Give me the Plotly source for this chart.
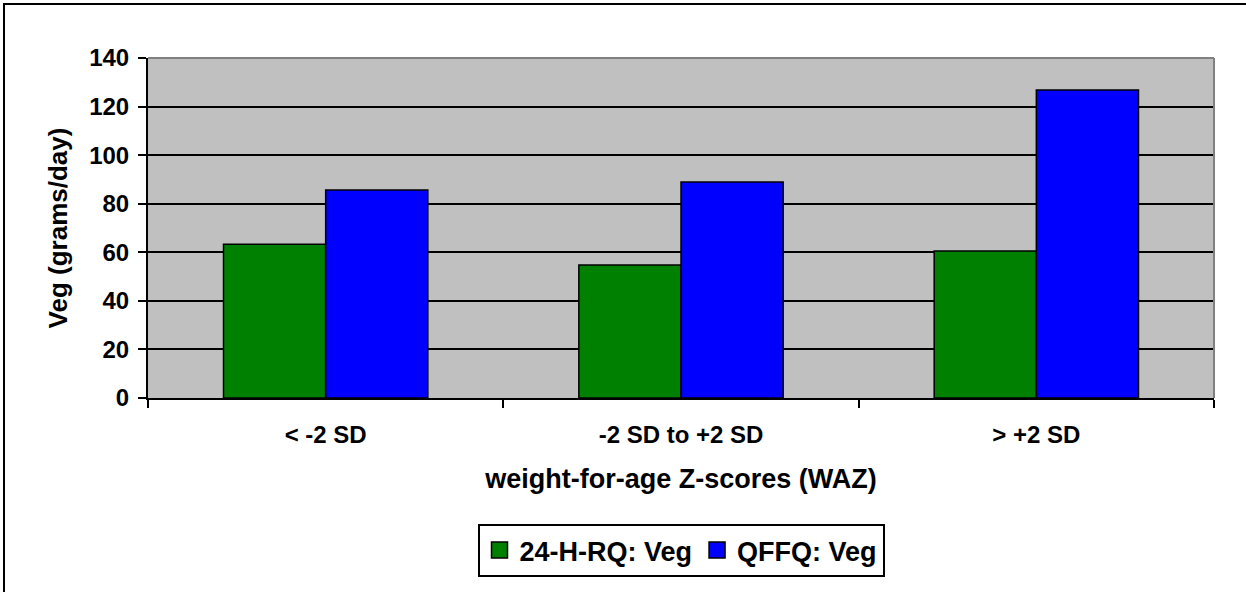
import plotly.graph_objects as go

categories = ["< -2 SD", "-2 SD to +2 SD", "> +2 SD"]
rq_veg = [63.3, 54.8, 60.5]
qffq_veg = [85.6, 88.9, 126.8]
series_names = ["24-H-RQ: Veg", "QFFQ: Veg"]
series_colors = ["#008000", "#0000FF"]
y_ticks = [0, 20, 40, 60, 80, 100, 120, 140]

FONT = "Liberation Sans, Arial, sans-serif"
W, H = 1246, 592
L, R, T, B = 148, 32, 58, 194
plot_w = W - L - R
plot_h = H - T - B

fig = go.Figure()
for name, vals, color in zip(series_names, [rq_veg, qffq_veg], series_colors):
    fig.add_trace(go.Bar(
        x=categories, y=vals, name=name, showlegend=False,
        marker=dict(color=color, line=dict(color="black", width=1.5)),
    ))
# legend keys: larger square swatches
for name, color in zip(series_names, series_colors):
    fig.add_trace(go.Scatter(
        x=[None], y=[None], mode="markers", name=name,
        marker=dict(symbol="square", size=16, color=color,
                    line=dict(color="black", width=1.5)),
    ))

# outer chart border (left and top edges) as an open path in paper units
bx0 = (4 - L) / plot_w
bx1 = (W + 20 - L) / plot_w
by_top = (H - B - 4) / plot_h
by_bot = (-B - 20) / plot_h
border_path = f"M {bx0},{by_bot} L {bx0},{by_top} L {bx1},{by_top}"

fig.update_layout(
    width=W, height=H,
    margin=dict(l=L, r=R, t=T, b=B, autoexpand=False),
    paper_bgcolor="white",
    plot_bgcolor="#C0C0C0",
    barmode="group",
    bargap=0.425,
    bargroupgap=0,
    font=dict(family=FONT, color="black"),
    showlegend=True,
    legend=dict(
        orientation="h",
        x=0.5, xanchor="center",
        y=(398 - 524) / plot_h, yanchor="top",
        bordercolor="black", borderwidth=2,
        bgcolor="white",
        font=dict(family=FONT, size=27, color="black", weight="bold"),
        itemsizing="trace",
        itemwidth=30,
        tracegroupgap=0,
    ),
    xaxis=dict(
        type="category",
        tickson="boundaries",
        ticks="outside", ticklen=8, tickwidth=2, tickcolor="black",
        showline=True, linecolor="black", linewidth=2,
        showgrid=False,
        tickfont=dict(family=FONT, size=24, color="black", weight="bold"),
        ticklabelstandoff=14,
        title=dict(text="weight-for-age Z-scores (WAZ)",
                   font=dict(family=FONT, size=27, color="black", weight="bold"),
                   standoff=22),
        automargin=False,
    ),
    yaxis=dict(
        range=[0, 140],
        tickvals=y_ticks,
        ticks="outside", ticklen=8, tickwidth=2, tickcolor="black",
        showline=True, linecolor="black", linewidth=2,
        showgrid=True, gridcolor="black", gridwidth=1.5,
        zeroline=False,
        tickfont=dict(family=FONT, size=24, color="black", weight="bold"),
        ticklabelstandoff=4,
        title=dict(text="Veg (grams/day)",
                   font=dict(family=FONT, size=26, color="black", weight="bold"),
                   standoff=14),
        automargin=False,
    ),
    shapes=[
        # grey frame of the plot area (top and right edges)
        dict(type="line", xref="paper", yref="paper", x0=0, x1=1, y0=1, y1=1,
             line=dict(color="#808080", width=2), layer="above"),
        dict(type="line", xref="paper", yref="paper", x0=1, x1=1, y0=0, y1=1,
             line=dict(color="#808080", width=2), layer="above"),
        dict(type="path", xref="paper", yref="paper", path=border_path,
             line=dict(color="black", width=2), fillcolor="rgba(0,0,0,0)",
             layer="above"),
    ],
)

fig.write_html("out.html")
